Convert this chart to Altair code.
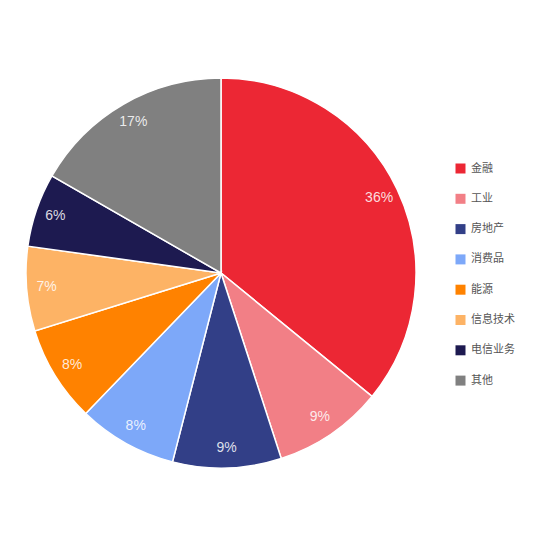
import altair as alt
import pandas as pd

sectors = ["金融", "工业", "房地产", "消费品", "能源", "信息技术", "电信业务", "其他"]
shares = [35.9, 9.1, 9.0, 8.2, 8.0, 7.0, 6.1, 16.7]
colors = ["#EC2734", "#F27F86", "#323F87", "#7DA8F9", "#FF8200",
          "#FDB365", "#1D1A50", "#808080"]

df = pd.DataFrame({"sector": sectors, "share": shares, "idx": range(len(sectors))})
df["pct"] = df["share"] / df["share"].sum()

base = alt.Chart(df).encode(
    theta=alt.Theta("share:Q", stack=True),
    order=alt.Order("idx:Q"),
)

pie = base.mark_arc(outerRadius=195, stroke="white", strokeWidth=1.5).encode(
    color=alt.Color(
        "sector:N",
        sort=sectors,
        scale=alt.Scale(domain=sectors, range=colors),
        legend=alt.Legend(
            title=None,
            orient="none",
            legendX=447,
            legendY=155,
            symbolType="square",
            symbolSize=100,
            symbolStrokeWidth=0,
            rowPadding=18.3,
            labelFont="Noto Sans CJK SC",
            labelFontSize=11,
            labelColor="#555555",
            labelOffset=5,
        ),
    )
)

labels = base.mark_text(
    radius=175, fill="white", fillOpacity=0.85, fontSize=14,
    font="Liberation Sans",
).encode(text=alt.Text("pct:Q", format=".0%"))

chart = (pie + labels).properties(
    width=426, height=530, padding=0, autosize=alt.AutoSizeParams(type="pad")
).configure_view(stroke=None)

chart.save("out.html", embed_options={"renderer": "svg", "actions": False})
